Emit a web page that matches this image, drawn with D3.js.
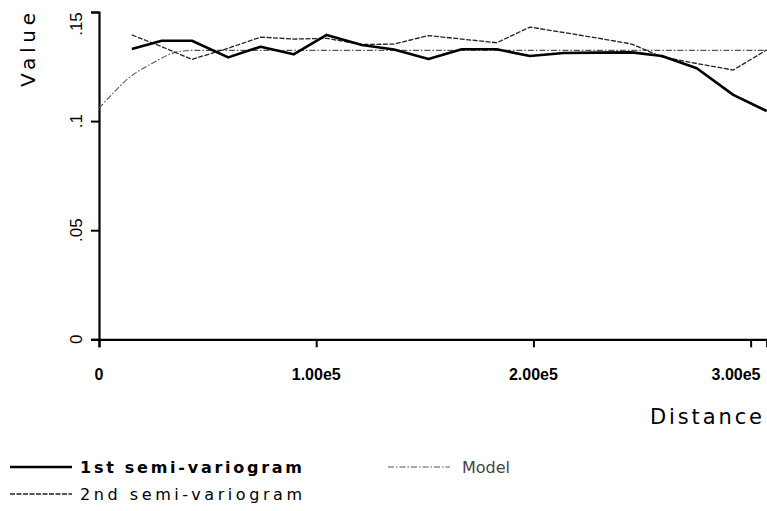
<!DOCTYPE html>
<html>
<head>
<meta charset="utf-8">
<script src="https://cdn.jsdelivr.net/npm/d3@7/dist/d3.min.js"></script>
<style>
  html, body { margin: 0; padding: 0; background: #fff; }
  svg { display: block; }
  text { font-family: "DejaVu Sans", sans-serif; fill: #000; }
  .tick-label { font-family: "Liberation Sans", Arial, sans-serif; }
</style>
</head>
<body>
<script>
// ---- data ----
const distances = [15100, 28900, 42800, 59500, 74400, 89600, 104800, 121000, 135800, 151700,
                   167000, 183100, 198400, 213900, 229300, 245300, 259200, 275200, 292000, 307400];
const firstSemi = [0.1330, 0.1368, 0.1368, 0.1292, 0.1341, 0.1306, 0.1395, 0.1349, 0.1328, 0.1285,
                   0.1329, 0.1329, 0.1298, 0.1312, 0.1314, 0.1315, 0.1298, 0.1242, 0.1120, 0.1046];
const secondSemi = [0.1395, 0.1341, 0.1283, 0.1334, 0.1385, 0.1376, 0.1379, 0.1351, 0.1353, 0.1392,
                    0.1376, 0.1359, 0.1431, 0.1406, 0.1381, 0.1353, 0.1294, 0.1264, 0.1234, 0.1326];
const modelDist  = [0, 6700, 13500, 20000, 25800, 31000, 35000, 42700, 307400];
const modelValue = [0.1059, 0.1130, 0.1196, 0.1240, 0.1272, 0.1300, 0.1315, 0.1324, 0.1324];

const xTicks = [0, 100000, 200000, 300000];
const xTickLabels = ["0", "1.00e5", "2.00e5", "3.00e5"];
const yTicks = [0, 0.05, 0.1, 0.15];
const yTickLabels = ["0", ".05", ".1", ".15"];
const xTitle = "Distance";
const yTitle = "Value";
const legendLabels = ["1st semi-variogram", "2nd semi-variogram", "Model"];

// ---- drawing ----
const W = 767, H = 511;
const svg = d3.select("body").append("svg").attr("width", W).attr("height", H);

const x = d3.scaleLinear().domain([0, 307400]).range([99, 766.7]);
const y = d3.scaleLinear().domain([0, 0.15]).range([339.3, 12]);

// axes
const xAxis = d3.axisBottom(x).tickValues(xTicks).tickSize(8).tickFormat("");
const yAxis = d3.axisLeft(y).tickValues(yTicks).tickSize(8).tickFormat("");
const gx = svg.append("g").attr("transform", `translate(0,${y(0)})`).call(xAxis);
const gy = svg.append("g").attr("transform", `translate(${x(0)},0)`).call(yAxis);
[gx, gy].forEach(g => {
  g.select(".domain").attr("stroke", "#000").attr("stroke-width", 2.2);
  g.selectAll(".tick line").attr("stroke", "#000").attr("stroke-width", 2);
});

// x tick labels
const xLabHalf = 26;
svg.append("g").selectAll("text").data(xTicks).join("text")
  .attr("class", "tick-label")
  .attr("x", d => Math.min(x(d), 762 - xLabHalf)).attr("y", 380)
  .attr("text-anchor", "middle")
  .attr("font-size", 16).attr("font-weight", "bold")
  .text((d, i) => xTickLabels[i]);

// y tick labels (rotated)
svg.append("g").selectAll("text").data(yTicks).join("text")
  .attr("class", "tick-label")
  .attr("transform", d => `translate(82,${Math.max(y(d), 24)}) rotate(-90)`)
  .attr("text-anchor", "middle")
  .attr("font-size", 17)
  .text((d, i) => yTickLabels[i]);

// axis titles
svg.append("text")
  .attr("transform", `translate(35,50) rotate(-90)`)
  .attr("text-anchor", "middle")
  .attr("font-size", 20)
  .attr("textLength", 74).attr("lengthAdjust", "spacing")
  .text(yTitle);
svg.append("text")
  .attr("x", 650).attr("y", 424)
  .attr("font-size", 21)
  .attr("textLength", 112).attr("lengthAdjust", "spacing")
  .text(xTitle);

// lines
const line = d3.line().x(d => x(d[0])).y(d => y(d[1]));
const modelPts = modelDist.map((d, i) => [d, modelValue[i]]);
const firstPts = distances.map((d, i) => [d, firstSemi[i]]);
const secondPts = distances.map((d, i) => [d, secondSemi[i]]);

const styles = {
  first:  { stroke: "#000", width: 2.6, dash: null },
  second: { stroke: "#222", width: 1.3, dash: "5,1.5" },
  model:  { stroke: "#555", width: 1.1, dash: "6,2,1.5,2" }
};

svg.append("path").datum(modelPts).attr("d", line.curve(d3.curveMonotoneX))
  .attr("fill", "none").attr("stroke", styles.model.stroke)
  .attr("stroke-width", styles.model.width).attr("stroke-dasharray", styles.model.dash);
line.curve(d3.curveLinear);
svg.append("path").datum(secondPts).attr("d", line)
  .attr("fill", "none").attr("stroke", styles.second.stroke)
  .attr("stroke-width", styles.second.width).attr("stroke-dasharray", styles.second.dash);
svg.append("path").datum(firstPts).attr("d", line)
  .attr("fill", "none").attr("stroke", styles.first.stroke)
  .attr("stroke-width", styles.first.width).attr("stroke-linejoin", "round");

// legend
const legend = [
  { label: legendLabels[0], st: styles.first,  x0: 10,  y: 467, tx: 80,  tl: 222, weight: "bold",   color: "#000" },
  { label: legendLabels[1], st: styles.second, x0: 10,  y: 494, tx: 80,  tl: 222, weight: "normal", color: "#000" },
  { label: legendLabels[2], st: styles.model,  x0: 388, y: 467, tx: 462, tl: 48,  weight: "normal", color: "#444" }
];
const lg = svg.append("g");
legend.forEach(l => {
  lg.append("line").attr("x1", l.x0).attr("x2", l.x0 + 62).attr("y1", l.y).attr("y2", l.y)
    .attr("stroke", l.st.stroke).attr("stroke-width", l.st.width)
    .attr("stroke-dasharray", l.st.dash);
  lg.append("text").attr("x", l.tx).attr("y", l.y + 6)
    .attr("font-size", 16).attr("font-weight", l.weight)
    .attr("textLength", l.tl).attr("lengthAdjust", "spacing")
    .style("fill", l.color)
    .text(l.label);
});
</script>
</body>
</html>
